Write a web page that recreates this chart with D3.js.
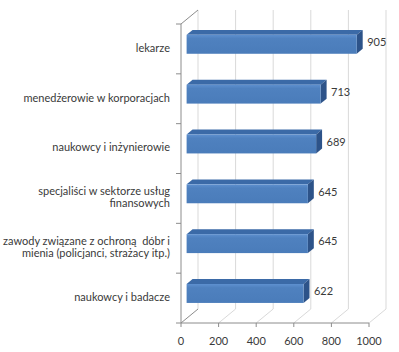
<!DOCTYPE html>
<html>
<head>
<meta charset="utf-8">
<script src="https://cdn.jsdelivr.net/npm/d3@7"></script>
<style>
html,body{margin:0;padding:0;background:#fff;}
svg{display:block;}
text{font-family:Lato, "Open Sans", sans-serif;fill:#3a3a3a;white-space:pre;}
</style>
</head>
<body>
<script>
const categories = [
  "lekarze",
  "menedżerowie w korporacjach",
  "naukowcy i inżynierowie",
  "specjaliści w sektorze usług\nfinansowych",
  "zawody związane z ochroną  dóbr i\nmienia (policjanci, strażacy itp.)",
  "naukowcy i badacze"
];
const values = [905, 713, 689, 645, 645, 622];
const xTicks = [0, 200, 400, 600, 800, 1000];

const W = 399, H = 352;
const svg = d3.select("body").append("svg").attr("width", W).attr("height", H);

const x = d3.scaleLinear().domain([0, 1000]).range([181, 369]);
const y = d3.scaleBand().domain(categories).range([24, 323]).paddingInner(0.62).paddingOuter(0.31);
const DX = 17, DY = -14;      // depth offset of back wall
const d1 = 0.33, d2 = 0.68;   // bar front/back depth fractions
const yTop = 24, yBot = 323;
const FS = 11;

const defs = svg.append("defs");
const g1 = defs.append("linearGradient").attr("id","front").attr("x1",0).attr("y1",0).attr("x2",0).attr("y2",1);
g1.append("stop").attr("offset","0%").attr("stop-color","#5E90CF");
g1.append("stop").attr("offset","20%").attr("stop-color","#4F81BF");
g1.append("stop").attr("offset","100%").attr("stop-color","#4A7CBA");

const grid = "#D9D9D9", axisC = "#8C8C8C";

// back wall gridlines and floor lines
xTicks.forEach(t => {
  svg.append("line").attr("x1", x(t)+DX).attr("x2", x(t)+DX)
    .attr("y1", yTop+DY).attr("y2", yBot+DY).attr("stroke", grid).attr("stroke-width", 1);
  svg.append("line").attr("x1", x(t)).attr("y1", yBot).attr("x2", x(t)+DX).attr("y2", yBot+DY)
    .attr("stroke", t === 0 ? axisC : grid).attr("stroke-width", 1);
});
// left wall top edge
svg.append("line").attr("x1", x(0)).attr("y1", yTop).attr("x2", x(0)+DX).attr("y2", yTop+DY)
  .attr("stroke", axisC);

// left axis
svg.append("line").attr("x1", x(0)).attr("x2", x(0)).attr("y1", yTop).attr("y2", yBot).attr("stroke", axisC);
const step = y.step();
for (let i = 0; i <= categories.length; i++) {
  const yy = yTop + i*step;
  svg.append("line").attr("x1", x(0)-5).attr("x2", x(0)).attr("y1", yy).attr("y2", yy).attr("stroke", axisC);
}
// bottom axis
svg.append("line").attr("x1", x(0)).attr("x2", x(1000)).attr("y1", yBot).attr("y2", yBot).attr("stroke", axisC);
xTicks.forEach(t => {
  svg.append("line").attr("x1", x(t)).attr("x2", x(t)).attr("y1", yBot).attr("y2", yBot+4).attr("stroke", axisC);
  svg.append("text").attr("x", x(t)).attr("y", 342).attr("text-anchor","middle")
    .attr("dominant-baseline","middle").attr("font-size", FS).text(t);
});

// bars
categories.forEach((c, i) => {
  const v = values[i];
  const fx0 = x(0) + DX*d1, fx1 = x(v) + DX*d1;
  const fy0 = y(c) + DY*d1, fy1 = fy0 + y.bandwidth();
  const ox = DX*(d2-d1), oy = DY*(d2-d1);
  svg.append("path").attr("d", `M${fx0},${fy0} L${fx0+ox},${fy0+oy} L${fx1+ox},${fy0+oy} L${fx1},${fy0} Z`)
    .attr("fill", "#3B6AA7");
  svg.append("path").attr("d", `M${fx1},${fy0} L${fx1+ox},${fy0+oy} L${fx1+ox},${fy1+oy} L${fx1},${fy1} Z`)
    .attr("fill", "#2D5389");
  svg.append("rect").attr("x", fx0).attr("y", fy0).attr("width", fx1-fx0).attr("height", fy1-fy0)
    .attr("fill", "url(#front)");
  svg.append("text").attr("x", x(v) + 16).attr("y", (fy0+fy1)/2 - 1)
    .attr("dominant-baseline","middle").attr("font-size", FS).text(v);
  const lines = c.split("\n");
  const cy = y(c) + y.bandwidth()/2;
  const lh = 12.5;
  lines.forEach((ln, j) => {
    svg.append("text").attr("x", 170).attr("y", cy + (j - (lines.length-1)/2)*lh)
      .attr("text-anchor","end").attr("dominant-baseline","middle").attr("font-size", FS).text(ln);
  });
});
</script>
</body>
</html>
